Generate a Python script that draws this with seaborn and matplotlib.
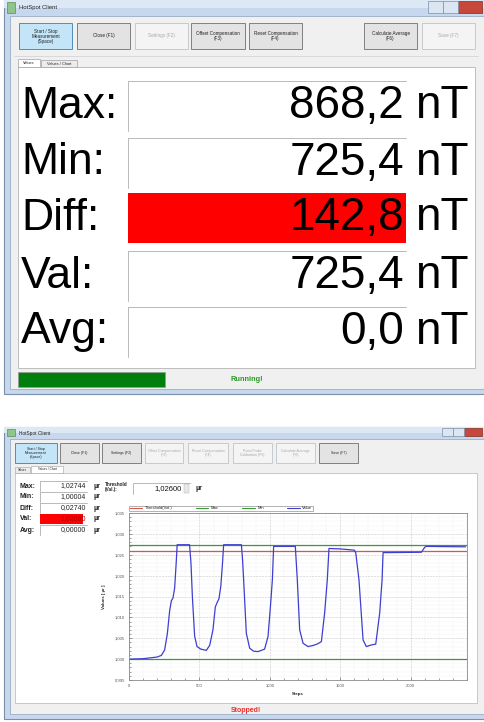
import numpy as np
import pandas as pd
import matplotlib
matplotlib.use("Agg")
import matplotlib.pyplot as plt
from matplotlib.patches import Rectangle
from matplotlib.ticker import FuncFormatter, MultipleLocator
import seaborn as sns

# ---- data ----
# top window (Values tab)
big_labels = ["Max:", "Min:", "Diff:", "Val:", "Avg:"]
big_values = ["868,2", "725,4", "142,8", "725,4", "0,0"]
big_unit = "nT"

# bottom window (Values / Chart tab)
small_labels = ["Max:", "Min:", "Diff:", "Val:", "Avg:"]
small_values = ["1,02744", "1,00004", "0,02740", "1,02690", "0,00000"]
small_unit = "µr"
threshold_text = "1,02600"

top_buttons = ["Start / Stop\nMeasurement\n(Space)", "Close (F1)", "Settings (F2)",
               "Offset Compensation\n(F3)", "Reset Compensation\n(F4)",
               "Calculate Average\n(F6)", "Save (F7)"]
bottom_buttons = ["Start / Stop\nMeasurement\n(Space)", "Close (F1)", "Settings (F2)",
                  "Offset Compensation\n(F3)", "Reset Compensation\n(F4)",
                  "Perm Probe\nCalibration (F5)", "Calculate Average\n(F6)", "Save (F7)"]

# chart series
steps = [0, 100, 150, 200, 230, 253, 272, 289, 301, 312, 324, 335, 342, 430, 440, 450,
         466, 483, 510, 549, 573, 596, 613, 625, 639, 652, 664, 672, 798, 806, 814, 833,
         857, 885, 916, 963, 987, 1004, 1018, 1027, 1181, 1195, 1212, 1236, 1271, 1310,
         1342, 1366, 1389, 1408, 1420, 1500, 1600, 1610, 1633, 1662, 1685, 1721, 1752,
         1780, 1797, 1804, 2076, 2100, 2111, 2390]
value = [1.0000, 1.0001, 1.0003, 1.0005, 1.0009, 1.0022, 1.0060, 1.0117, 1.0140, 1.0146,
         1.0170, 1.0230, 1.0274, 1.0274, 1.0230, 1.0150, 1.0055, 1.0030, 1.0024, 1.0021,
         1.0033, 1.0070, 1.0125, 1.0135, 1.0145, 1.0175, 1.0230, 1.0274, 1.0274, 1.0240,
         1.0190, 1.0062, 1.0026, 1.0019, 1.0018, 1.0024, 1.0054, 1.0125, 1.0190, 1.0270,
         1.0270, 1.0190, 1.0070, 1.0038, 1.0030, 1.0033, 1.0037, 1.0042, 1.0110, 1.0190,
         1.0265, 1.0264, 1.0261, 1.0255, 1.0190, 1.0046, 1.0030, 1.0034, 1.0036, 1.0110,
         1.0190, 1.0255, 1.0256, 1.0268, 1.0270, 1.0269]
line_x = [0, 2400]
threshold = [1.02600, 1.02600]
max_line = [1.02744, 1.02744]
min_line = [1.00004, 1.00004]

sns.set_theme(style="white")
plt.rcParams['font.family'] = ['Liberation Sans', 'DejaVu Sans']

W, H = 484, 722
fig = plt.figure(figsize=(W / 100, H / 100), dpi=100)
bg = fig.add_axes([0, 0, 1, 1])
bg.set_xlim(0, W)
bg.set_ylim(H, 0)
bg.axis("off")


def box(x0, y0, x1, y1, fc, ec="none", lw=0.6, z=1):
    bg.add_patch(Rectangle((x0, y0), x1 - x0, y1 - y0, fc=fc, ec=ec, lw=lw, zorder=z))


def sunken(x0, y0, x1, y1, fc="white"):
    box(x0, y0, x1, y1, fc)
    bg.plot([x0, x0, x1], [y1, y0, y0], color="#b9b9b9", lw=0.7, zorder=2)


def window(y0, y1, title, th):
    box(4, y0, W + 2, y1, "#c7d8ee", ec="#7a8fa8", lw=0.8)
    box(4, y0, W + 2, y0 + th * 0.5, "#dde8f5")
    box(10, y0 + th, W + 2, y1 - 5, "#f0f0f0", ec="#8ea2ba", lw=0.5)
    box(7, y0 + 2, 15, y0 + th - 3, "#8fc48a", ec="#4a7a46", lw=0.4, z=2)
    bg.text(19, y0 + th / 2, title, fontsize=4.2 if th > 12 else 3.4,
            va="center", color="#1e1e1e", zorder=3)
    # window controls
    cw = 15 if th > 12 else 11
    xr = W - 2
    box(xr - cw * 1.6, y0 + 1, xr, y0 + th - 3, "#c8473b", ec="#7d2a22", lw=0.5, z=2)
    box(xr - cw * 1.6 - cw, y0 + 1, xr - cw * 1.6, y0 + th - 3, "#dce6f2", ec="#7a8fa8", lw=0.5, z=2)
    box(xr - cw * 1.6 - 2 * cw, y0 + 1, xr - cw * 1.6 - cw, y0 + th - 3, "#dce6f2", ec="#7a8fa8", lw=0.5, z=2)


def button(x0, y0, x1, y1, text, state, fs):
    if state == "active":
        fc, ec, tc = "#c4e5f8", "#3c7fb1", "#202020"
    elif state == "off":
        fc, ec, tc = "#f4f4f4", "#c0c4c8", "#a8a8a8"
    else:
        fc, ec, tc = "#e3e3e3", "#707070", "#202020"
    box(x0, y0, x1, y1, fc, ec=ec, lw=0.6, z=2)
    bg.text((x0 + x1) / 2, (y0 + y1) / 2, text, fontsize=fs, ha="center", va="center",
            color=tc, linespacing=1.0, zorder=3)


# ---------------- top window ----------------
window(0, 394, "HotSpot Client", 16)
top_pos = [(19, 72), (77, 130), (135, 188), (191, 245), (249, 302), (364, 417), (422, 475)]
top_state = ["active", "on", "off", "on", "on", "on", "off"]
for (a, b), t, s in zip(top_pos, top_buttons, top_state):
    button(a, 23, b, 49, t, s, 3.3)
bg.plot([14, 478], [56, 56], color="#d5d5d5", lw=0.6)
box(18, 67, 475, 368, "white", ec="#b5b5b5", lw=0.6)
box(18, 59, 40, 67, "white", ec="#a0a0a0", lw=0.5, z=2)
box(41, 60, 77, 67, "#ececec", ec="#a0a0a0", lw=0.5, z=2)
bg.text(29, 63.5, "Values", fontsize=2.8, ha="center", va="center", zorder=3)
bg.text(59, 64, "Values / Chart", fontsize=2.8, ha="center", va="center", zorder=3)

row_tops = [81, 138, 193, 251, 307]
for lab, val, yt in zip(big_labels, big_values, row_tops):
    yc = yt + 25
    if lab == "Diff:":
        box(128, yt, 406, yt + 50, "#ff0000")
    else:
        sunken(128, yt, 406, yt + 50)
    bg.text(21, yc, lab, fontsize=32, va="center", ha="left", color="black", zorder=3)
    bg.text(404, yc, val, fontsize=33, va="center", ha="right", color="black", zorder=3)
    bg.text(415, yc, big_unit, fontsize=33, va="center", ha="left", color="black", zorder=3)

box(18, 372, 165, 387, "#007f0e", ec="#9a9a9a", lw=0.5)
bg.text(247, 379.5, "Running!", fontsize=5.3, ha="center", va="center",
        color="#2a9a2a", fontweight="bold")

# ---------------- bottom window ----------------
window(427, 719, "HotSpot Client", 12)
bot_pos = [(15, 57), (60, 99), (102, 141), (145, 183), (188, 228), (233, 272), (276, 315), (319, 358)]
bot_state = ["active", "on", "on", "off", "off", "off", "off", "on"]
for (a, b), t, s in zip(bot_pos, bottom_buttons, bot_state):
    button(a, 443, b, 463, t, s, 2.5)
box(15, 473, 477, 703, "white", ec="#b5b5b5", lw=0.5)
box(15, 467, 30, 473, "#ececec", ec="#a0a0a0", lw=0.4, z=2)
box(31, 466, 63, 473, "white", ec="#a0a0a0", lw=0.4, z=2)
bg.text(22.5, 470, "Values", fontsize=2.2, ha="center", va="center", zorder=3)
bg.text(47, 469.5, "Values / Chart", fontsize=2.2, ha="center", va="center", zorder=3)

for i, (lab, val) in enumerate(zip(small_labels, small_values)):
    yc = 486 + i * 11
    if lab == "Val:":
        box(40, yc - 5, 83, yc + 5, "#ff0000")
        vcol = "#b00000"
    else:
        sunken(40, yc - 5, 87, yc + 5)
        vcol = "#222222"
    bg.text(20, yc, lab, fontsize=5, va="center", ha="left", fontweight="bold", color="#222222")
    bg.text(86, yc, val, fontsize=5, va="center", ha="right", color=vcol, zorder=3)
    bg.text(93, yc, small_unit, fontsize=5, va="center", ha="left", fontweight="bold", color="#222222")

bg.text(105, 487.5, "Threshold\n(Val.):", fontsize=3.3, va="center", ha="left",
        fontweight="bold", linespacing=1.0, color="#222222")
sunken(133, 483, 190, 494)
bg.text(182, 488.5, threshold_text, fontsize=5.5, va="center", ha="right", color="#111111", zorder=3)
box(184, 484, 189, 493, "#e8e8e8", ec="#b0b0b0", lw=0.3, z=3)
bg.text(196, 489, small_unit, fontsize=5, va="center", ha="left", fontweight="bold", color="#222222")
bg.text(246, 711, "Stopped!", fontsize=5, ha="center", va="center", color="#e8322d", fontweight="bold")

# ---------------- chart ----------------
series = pd.concat([
    pd.DataFrame({"Steps": line_x, "val": threshold, "name": "Threshold(Val.)"}),
    pd.DataFrame({"Steps": line_x, "val": max_line, "name": "Max"}),
    pd.DataFrame({"Steps": line_x, "val": min_line, "name": "Min"}),
    pd.DataFrame({"Steps": steps, "val": value, "name": "Value"}),
])
palette = {"Threshold(Val.)": "#d9534f", "Max": "#3a9a3a", "Min": "#3a9a3a", "Value": "#3e3ed0"}

ax = fig.add_axes([129 / W, (H - 680) / H, 338 / W, 167 / H])
sns.lineplot(data=series, x="Steps", y="val", hue="name", palette=palette,
             hue_order=list(palette), estimator=None, sort=False, lw=0.9, ax=ax)
ax.set_xlim(0, 2400)
ax.set_ylim(0.995, 1.035)
ax.set_facecolor("white")
ax.xaxis.set_major_locator(MultipleLocator(500))
ax.xaxis.set_minor_locator(MultipleLocator(100))
ax.yaxis.set_major_locator(MultipleLocator(0.005))
ax.yaxis.set_minor_locator(MultipleLocator(0.001))
ax.yaxis.set_major_formatter(FuncFormatter(lambda v, p: f"{v:.3f}".replace(".", ",")))
ax.tick_params(which="both", labelsize=3, colors="#555555", length=2, width=0.4, direction="in",
               pad=3, bottom=True, left=True)
ax.tick_params(which="minor", length=1.2)
ax.grid(which="major", color="#c8c8c8", lw=0.4, ls="--")
ax.grid(which="minor", color="#dddddd", lw=0.3, ls=":")
for sp in ax.spines.values():
    sp.set_color("#8a8a8a")
    sp.set_linewidth(0.6)
ax.set_xlabel("Steps", fontsize=3.2, fontweight="bold", labelpad=3)
ax.set_ylabel("Values [ µr ]", fontsize=3.2, fontweight="bold", labelpad=6)
leg = ax.legend(loc="lower left", bbox_to_anchor=(0, 1.012, 0.545, 0.04), mode="expand",
                ncol=4, fontsize=3, frameon=True, fancybox=False, edgecolor="#777777",
                borderpad=0.15, handlelength=3, handletextpad=0.6, borderaxespad=0)
leg.get_frame().set_linewidth(0.5)
for ln in leg.get_lines():
    ln.set_linewidth(0.8)

fig.savefig("out.png", dpi=100, facecolor="white")
